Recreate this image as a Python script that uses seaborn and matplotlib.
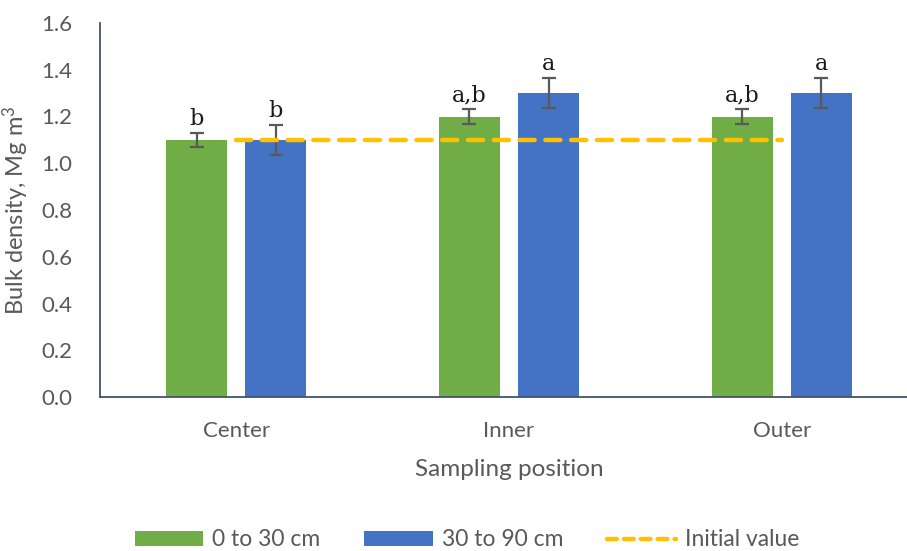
import matplotlib
matplotlib.use("Agg")
import matplotlib.pyplot as plt
import seaborn as sns
import pandas as pd
from matplotlib.patches import Patch
from matplotlib.lines import Line2D

# ---- data ----
positions = ["Center", "Inner", "Outer"]
depths = ["0 to 30 cm", "30 to 90 cm"]
density_0_30 = [1.10, 1.20, 1.20]
density_30_90 = [1.10, 1.30, 1.30]
err_0_30 = [0.03, 0.03, 0.03]
err_30_90 = [0.065, 0.065, 0.065]
letters_0_30 = ["b", "a,b", "a,b"]
letters_30_90 = ["b", "a", "a"]
initial_value = [1.10, 1.10, 1.10]
y_ticks = [0.0, 0.2, 0.4, 0.6, 0.8, 1.0, 1.2, 1.4, 1.6]

df = pd.DataFrame({
    "position": positions * 2,
    "depth": [depths[0]] * 3 + [depths[1]] * 3,
    "density": density_0_30 + density_30_90,
    "err": err_0_30 + err_30_90,
    "letter": letters_0_30 + letters_30_90,
})

sns.set_theme(style="white")
plt.rcParams["font.family"] = ["Lato", "DejaVu Sans"]
plt.rcParams["mathtext.default"] = "regular"

GREEN = "#70AD47"
BLUE = "#4472C4"
YELLOW = "#FFC000"
TXT = "#595959"
AXC = "#44546A"

fig = plt.figure(figsize=(9.07, 5.51), dpi=100)
ax = fig.add_axes([100 / 907, 154 / 551, 818 / 907, 374 / 551])

sns.barplot(data=df, x="position", y="density", hue="depth",
            order=positions, hue_order=depths,
            palette=[GREEN, BLUE], saturation=1, width=0.58, gap=0.23,
            errorbar=None, ax=ax, legend=False, edgecolor="none")

# error bars and letters placed at the library-drawn bar positions
bars = [p for p in ax.patches]
for bar, (_, row) in zip(bars, df.iterrows()):
    cx = bar.get_x() + bar.get_width() / 2
    h = bar.get_height()
    ax.errorbar(cx, h, yerr=row["err"], fmt="none", ecolor="#595959",
                elinewidth=1.6, capsize=5, capthick=1.6, zorder=4)
    ax.annotate(row["letter"], (cx, h + row["err"]), xytext=(0, 2),
                textcoords="offset points", ha="center", va="bottom",
                fontsize=16, family=["DejaVu Serif"],
                color="#1a1a1a")

# initial value dashed line at category centres
ax.plot(range(len(positions)), initial_value, color=YELLOW, lw=3.2,
        linestyle=(0, (3.4, 2.4)), dash_capstyle="round", zorder=5)

ax.set_ylim(0, 1.6)
ax.set_xlim(-0.5, 2.5)
ax.set_yticks(y_ticks)
ax.set_yticklabels([f"{v:.1f}" for v in y_ticks])
ax.tick_params(axis="y", length=0, pad=20, labelsize=16, labelcolor=TXT)
ax.tick_params(axis="x", length=0, pad=17, labelsize=16, labelcolor=TXT)
for s in ["top", "right"]:
    ax.spines[s].set_visible(False)
for s in ["left", "bottom"]:
    ax.spines[s].set_color(AXC)
    ax.spines[s].set_linewidth(1.3)

ax.set_xlabel("Sampling position", fontsize=17.5, color=TXT, labelpad=13)
ax.set_ylabel("Bulk density, Mg m$^{3}$", fontsize=17, color=TXT)
ax.yaxis.set_label_coords(-0.0844, 0.5)

handles = [Patch(facecolor=GREEN, edgecolor="none"),
           Patch(facecolor=BLUE, edgecolor="none"),
           Line2D([0], [0], color=YELLOW, lw=3.2, linestyle=(0, (2.2, 1.6)),
                  dash_capstyle="round")]
fig.legend(handles, depths + ["Initial value"], loc="center",
           bbox_to_anchor=(467 / 907, 1 - 540 / 551), ncol=3, frameon=False,
           fontsize=16.5, labelcolor=TXT, handlelength=3.0, handleheight=0.65,
           columnspacing=1.9, handletextpad=0.4)

fig.savefig("out.png", dpi=100)
